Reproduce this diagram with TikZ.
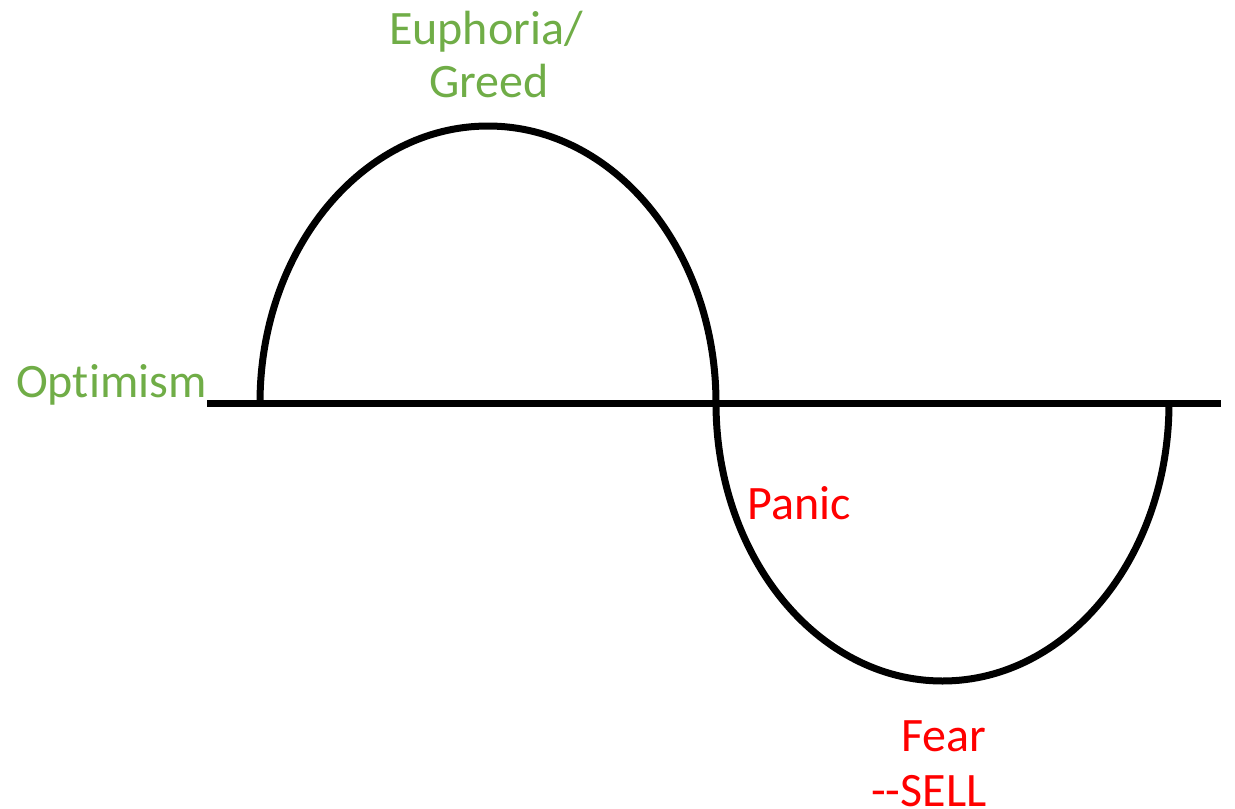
\documentclass[tikz,border=0pt]{standalone}
\usepackage{xcolor}
\usepackage{fontspec}
\setmainfont{Carlito}[Ligatures=NoCommon]
\usepackage{tikz}
\usetikzlibrary{positioning}
\definecolor{MoodGreen}{HTML}{70AD47}
\definecolor{MoodRed}{HTML}{FF0000}
\tikzset{
  greenlbl/.style={font=\fontsize{48}{58}\selectfont\color{MoodGreen},inner sep=0pt},
  redlbl/.style={font=\fontsize{48}{58}\selectfont\color{MoodRed},inner sep=0pt},
  cycleline/.style={line width=7pt,draw=black},
}
\begin{document}
\begin{tikzpicture}[x=1pt,y=-1pt]
  \useasboundingbox (0,0) rectangle (1235,809);
  \coordinate (axisL) at (207,403);
  \coordinate (axisR) at (1221,403);
  \coordinate (upStart) at (260,403);
  \coordinate (midCross) at (716,403);
  \draw[cycleline] (axisL) -- (axisR);
  \draw[cycleline] (upStart) arc[start angle=180,end angle=360,x radius=228,y radius=277];
  \draw[cycleline] (midCross) arc[start angle=180,end angle=0,x radius=226.5,y radius=278];
  \node[greenlbl,anchor=base] (euph) at (486,44) {Euphoria/};
  \node[greenlbl,anchor=base] (greed) at (489,97) {Greed};
  \node[greenlbl,anchor=base west] (optim) at (16,397) {Optimism};
  \node[redlbl,anchor=base west] (panic) at (747,519) {Panic};
  \node[redlbl,anchor=base west] (fear) at (901,751) {Fear};
  \node[redlbl,anchor=base west] (sell) at (871,806) {-\kern0pt-SELL};
\end{tikzpicture}
\end{document}
